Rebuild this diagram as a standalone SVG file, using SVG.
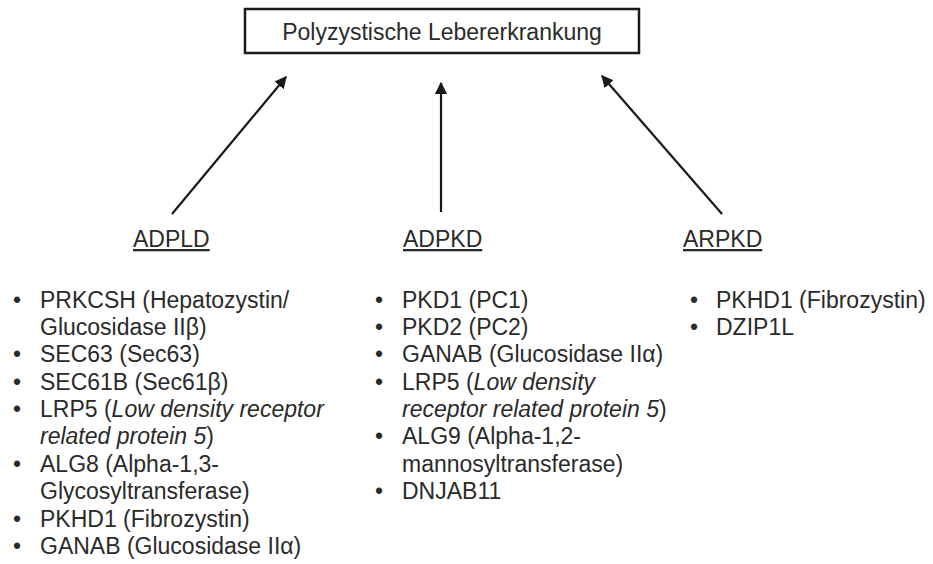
<svg xmlns="http://www.w3.org/2000/svg" width="933" height="564" viewBox="0 0 933 564">
<defs>
<marker id="ah" viewBox="0 0 10 10" refX="9" refY="5" markerWidth="5.5" markerHeight="5.5" orient="auto" markerUnits="strokeWidth">
<path d="M0,0 L10,5 L0,10 z" fill="#1a1a1a"/>
</marker>
</defs>
<style>
text{font-family:"Liberation Sans",Arial,sans-serif;fill:#2a2a2a;font-size:23px}
.lbl{text-decoration:underline}
.it{font-style:italic}
.conn{stroke:#1a1a1a;stroke-width:2.2;fill:none;marker-end:url(#ah)}
</style>
<rect width="933" height="564" fill="#fff"/>
<g id="root">
<rect x="245" y="9" width="394" height="44" fill="#fff" stroke="#1a1a1a" stroke-width="2.5"/>
<text x="442" y="40" text-anchor="middle">Polyzystische Lebererkrankung</text>
</g>
<g id="connectors">
<line class="conn" x1="172" y1="214" x2="286" y2="77"/>
<line class="conn" x1="441" y1="212" x2="441" y2="83"/>
<line class="conn" x1="722" y1="214" x2="602" y2="76"/>
</g>
<g id="adpld">
<text class="lbl" x="133" y="247">ADPLD</text>
<text x="13" y="308">•</text><text x="40" y="308">PRKCSH (Hepatozystin/</text>
<text x="40" y="335">Glucosidase IIβ)</text>
<text x="13" y="362">•</text><text x="40" y="362">SEC63 (Sec63)</text>
<text x="13" y="390">•</text><text x="40" y="390">SEC61B (Sec61β)</text>
<text x="13" y="417">•</text><text x="40" y="417">LRP5 (<tspan class="it">Low density receptor</tspan></text>
<text x="40" y="444"><tspan class="it">related protein 5</tspan>)</text>
<text x="13" y="472">•</text><text x="40" y="472">ALG8 (Alpha-1,3-</text>
<text x="40" y="499">Glycosyltransferase)</text>
<text x="13" y="527">•</text><text x="40" y="527">PKHD1 (Fibrozystin)</text>
<text x="13" y="554">•</text><text x="40" y="554">GANAB (Glucosidase IIα)</text>
</g>
<g id="adpkd">
<text class="lbl" x="403" y="247">ADPKD</text>
<text x="375" y="308">•</text><text x="402" y="308">PKD1 (PC1)</text>
<text x="375" y="335">•</text><text x="402" y="335">PKD2 (PC2)</text>
<text x="375" y="362">•</text><text x="402" y="362">GANAB (Glucosidase IIα)</text>
<text x="375" y="390">•</text><text x="402" y="390">LRP5 (<tspan class="it">Low density</tspan></text>
<text x="402" y="417"><tspan class="it">receptor related protein 5</tspan>)</text>
<text x="375" y="444">•</text><text x="402" y="444">ALG9 (Alpha-1,2-</text>
<text x="402" y="472">mannosyltransferase)</text>
<text x="375" y="499">•</text><text x="402" y="499">DNJAB11</text>
</g>
<g id="arpkd">
<text class="lbl" x="683" y="247">ARPKD</text>
<text x="690" y="308">•</text><text x="716" y="308">PKHD1 (Fibrozystin)</text>
<text x="690" y="335">•</text><text x="716" y="335">DZIP1L</text>
</g>
</svg>
